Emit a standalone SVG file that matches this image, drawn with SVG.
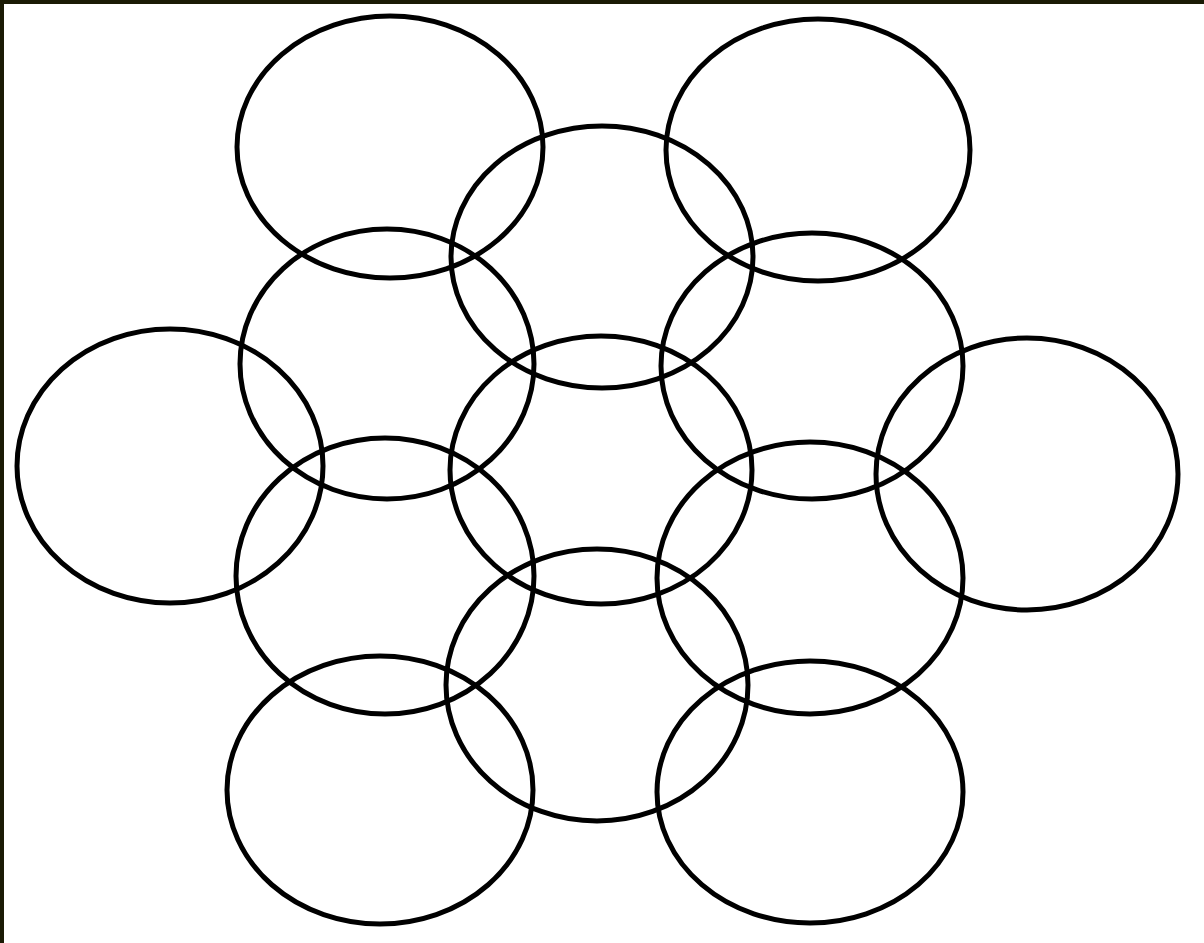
<svg xmlns="http://www.w3.org/2000/svg" width="1204" height="943" viewBox="0 0 1204 943">
<style>
.c{fill:none;stroke:#000;stroke-width:5}
</style>
<rect x="0" y="0" width="1204" height="943" fill="#fff"/>
<rect x="0" y="0" width="1204" height="4" fill="#1a1a04"/>
<rect x="0" y="0" width="4" height="943" fill="#1a1a04"/>
<g id="rings">
<ellipse id="tl" class="c" cx="390" cy="147" rx="153" ry="131"/>
<ellipse id="tr" class="c" cx="818" cy="150" rx="152" ry="131"/>
<ellipse id="tc" class="c" cx="602" cy="257" rx="151" ry="131"/>
<ellipse id="ul" class="c" cx="387" cy="364" rx="147" ry="135"/>
<ellipse id="ur" class="c" cx="812" cy="366" rx="151" ry="133"/>
<ellipse id="l" class="c" cx="170" cy="466" rx="153" ry="137"/>
<ellipse id="c" class="c" cx="601" cy="470" rx="151" ry="134"/>
<ellipse id="r" class="c" cx="1027" cy="474" rx="151" ry="136"/>
<ellipse id="ll" class="c" cx="385" cy="576" rx="149" ry="138"/>
<ellipse id="lr" class="c" cx="810" cy="578" rx="153" ry="136"/>
<ellipse id="bc" class="c" cx="597" cy="685" rx="151" ry="136"/>
<ellipse id="bl" class="c" cx="380" cy="790" rx="153" ry="134"/>
<ellipse id="br" class="c" cx="810" cy="792" rx="153" ry="131"/>
</g>
</svg>
